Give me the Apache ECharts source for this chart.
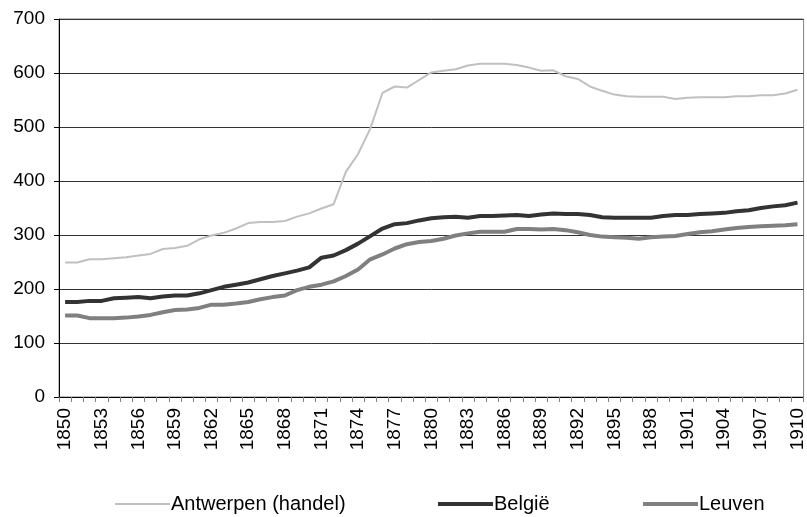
<!DOCTYPE html>
<html>
<head>
<meta charset="utf-8">
<script src="https://cdn.jsdelivr.net/npm/echarts@6/dist/echarts.min.js"></script>
<style>
  html, body { margin: 0; padding: 0; background: #fff; }
  #chart { width: 807px; height: 517px; }
</style>
</head>
<body>
<div id="chart"></div>
<script>
// jaren 1850 - 1910
const years = []
for (let y = 1850; y <= 1910; y++) years.push(String(y))

const antwerpen = [
  249, 249, 255, 255, 257, 259, 262, 265, 274, 276, 280,
  292, 299, 304, 312, 322, 324, 324, 326, 334, 340,
  349, 357, 417, 450, 497, 563, 575, 573, 587, 601,
  604, 607, 614, 617, 617, 617, 615, 610, 604, 605,
  594, 589, 575, 567, 560, 557, 556, 556, 556, 552,
  554, 555, 555, 555, 557, 557, 559, 559, 562, 569
]

const belgie = [
  176, 176, 178, 178, 183, 184, 185, 183, 186, 188, 188,
  192, 198, 204, 208, 212, 218, 224, 229, 234, 240,
  258, 262, 272, 284, 298, 312, 320, 322, 327, 331,
  333, 334, 332, 335, 335, 336, 337, 335, 338, 340,
  339, 339, 337, 333, 332, 332, 332, 332, 335, 337,
  337, 339, 340, 341, 344, 346, 350, 353, 355, 360
]

const leuven = [
  151, 151, 146, 146, 146, 147, 149, 152, 157, 161, 162,
  165, 171, 171, 173, 176, 181, 185, 188, 198, 204,
  208, 214, 224, 236, 255, 264, 275, 283, 287, 289,
  293, 299, 303, 306, 306, 306, 311, 311, 310, 311,
  309, 305, 300, 297, 296, 295, 293, 296, 297, 298,
  302, 305, 307, 310, 313, 315, 316, 317, 318, 320
]

const font = 'Liberation Sans, Arial, sans-serif'
const chart = echarts.init(document.getElementById('chart'))

// losse legenda's, zodat de posities kloppen met het origineel
const legendItem = (name, left, thick) => ({
  data: [{ name: name, icon: 'rect' }],
  left: left,
  top: 489,
  itemWidth: 55,
  itemHeight: thick,
  itemGap: 2,
  textStyle: { fontFamily: font, fontSize: 20, color: '#000', padding: [0, 0, 0, -4] }
})

chart.setOption({
  animation: false,
  backgroundColor: '#fff',
  grid: {
    left: 59,
    right: 3,
    top: 19,
    bottom: 120,
    show: true,
    borderColor: '#808080',
    borderWidth: 1
  },
  legend: [
    legendItem('Antwerpen (handel)', 110, 2),
    legendItem('België', 433, 4),
    legendItem('Leuven', 638, 4)
  ],
  xAxis: {
    type: 'category',
    data: years,
    boundaryGap: true,
    axisLine: { lineStyle: { color: '#000', width: 1 } },
    axisTick: { show: true, interval: 0, length: 5, lineStyle: { color: '#808080' } },
    axisLabel: {
      interval: 2,
      rotate: 90,
      margin: 11,
      fontFamily: font,
      fontSize: 19,
      color: '#000'
    }
  },
  yAxis: {
    type: 'value',
    min: 0,
    max: 700,
    interval: 100,
    axisLine: { show: true, lineStyle: { color: '#000', width: 1 } },
    axisTick: { show: true, length: 5, lineStyle: { color: '#000' } },
    axisLabel: { margin: 14, fontFamily: font, fontSize: 19, color: '#000' },
    splitLine: { lineStyle: { color: '#333', width: 1 } }
  },
  series: [
    {
      name: 'Antwerpen (handel)',
      type: 'line',
      data: antwerpen,
      symbol: 'none',
      color: '#c0c0c0',
      lineStyle: { width: 2, color: '#c0c0c0' }
    },
    {
      name: 'België',
      type: 'line',
      data: belgie,
      symbol: 'none',
      color: '#333333',
      lineStyle: { width: 4, color: '#333333' }
    },
    {
      name: 'Leuven',
      type: 'line',
      data: leuven,
      symbol: 'none',
      color: '#808080',
      lineStyle: { width: 4, color: '#808080' }
    }
  ]
})
</script>
</body>
</html>
